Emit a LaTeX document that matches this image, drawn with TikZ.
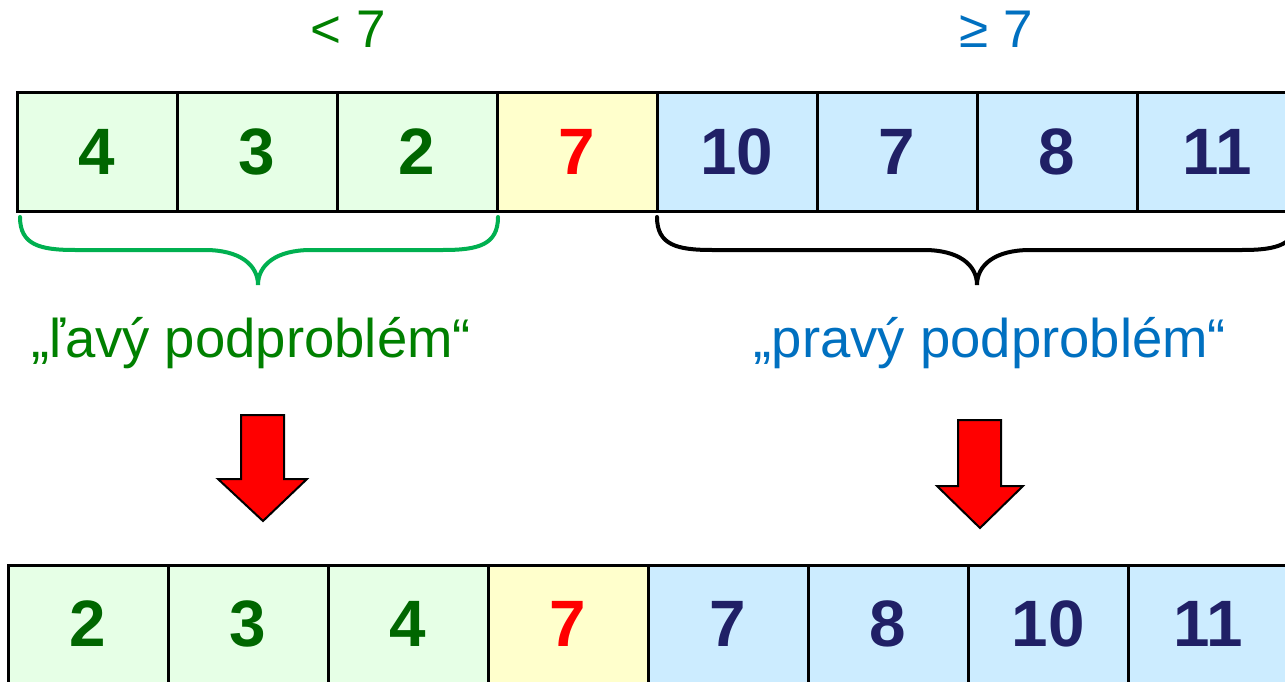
\documentclass[tikz,border=0pt]{standalone}
\usepackage{fontspec}
\setmainfont{Liberation Sans}
\definecolor{lgreen}{HTML}{E6FFE6}
\definecolor{lyellow}{HTML}{FFFFCC}
\definecolor{lblue}{HTML}{CCECFF}
\definecolor{numgreen}{HTML}{006600}
\definecolor{numblue}{HTML}{202066}
\definecolor{txtgreen}{HTML}{008000}
\definecolor{txtblue}{HTML}{0070C0}
\definecolor{bracegreen}{HTML}{00B050}
\tikzset{
  cell/.style={draw=black, line width=3pt, minimum width=160pt, minimum height=118pt, inner sep=0pt,
    font=\fontsize{65.6}{70}\selectfont\bfseries},
  gcell/.style={cell, fill=lgreen, text=numgreen},
  ycell/.style={cell, fill=lyellow, text=red},
  bcell/.style={cell, fill=lblue, text=numblue},
  lbl/.style={inner sep=0pt, anchor=base, font=\fontsize{54.5}{60}\selectfont},
  brace/.style={line width=4pt, line cap=round},
  bigarrow/.style={draw=black, line width=2pt, fill=red, line join=miter}
}
\begin{document}
\begin{tikzpicture}[x=1pt,y=-1pt]
\clip (0,0) rectangle (1285,682);
\fill[white] (0,0) rectangle (1285,682);
% top labels
\node[lbl, text=txtgreen, font=\fontsize{53}{58}\selectfont] (lt) at (348,48) {< 7};
\node[lbl, text=txtblue, font=\fontsize{53}{58}\selectfont] (gt) at (996,48) {≥ 7};
% top row
\node[gcell] (t1) at (97,152) {4};
\node[gcell] (t2) at (257,152) {3};
\node[gcell] (t3) at (417,152) {2};
\node[ycell] (t4) at (577,152) {7};
\node[bcell] (t5) at (737,152) {10};
\node[bcell] (t6) at (897,152) {7};
\node[bcell] (t7) at (1057,152) {8};
\node[bcell] (t8) at (1217,152) {11};
% braces
\coordinate (lb1) at (20,217);
\coordinate (lbt) at (258,285);
\coordinate (lb2) at (498,217);
\draw[brace, draw=bracegreen] (lb1) .. controls (20,245) and (40,250) .. (75,250) -- (205,250)
  .. controls (240,250) and (258,265) .. (lbt) .. controls (258,265) and (276,250) .. (311,250)
  -- (443,250) .. controls (478,250) and (498,245) .. (lb2);
\coordinate (rb1) at (657,217);
\coordinate (rbt) at (977,285);
\coordinate (rb2) at (1297,217);
\draw[brace, draw=black] (rb1) .. controls (657,245) and (677,250) .. (712,250) -- (924,250)
  .. controls (959,250) and (977,265) .. (rbt) .. controls (977,265) and (995,250) .. (1030,250)
  -- (1242,250) .. controls (1277,250) and (1297,245) .. (rb2);
% subproblem labels
\node[lbl, text=txtgreen] (ll) at (251,357) {„ľavý podproblém“};
\node[lbl, text=txtblue] (rl) at (990,357) {„pravý podproblém“};
% arrows
\draw[bigarrow] (241,415) -- (284,415) -- (284,479) -- (307,479) -- (263,521) -- (218,479) -- (241,479) -- cycle;
\draw[bigarrow] (958,420) -- (1001,420) -- (1001,486) -- (1023,486) -- (980,528) -- (937,486) -- (958,486) -- cycle;
% bottom row
\node[gcell] (b1) at (88,624) {2};
\node[gcell] (b2) at (248,624) {3};
\node[gcell] (b3) at (408,624) {4};
\node[ycell] (b4) at (568,624) {7};
\node[bcell] (b5) at (728,624) {7};
\node[bcell] (b6) at (888,624) {8};
\node[bcell] (b7) at (1048,624) {10};
\node[bcell] (b8) at (1208,624) {11};
\end{tikzpicture}
\end{document}
